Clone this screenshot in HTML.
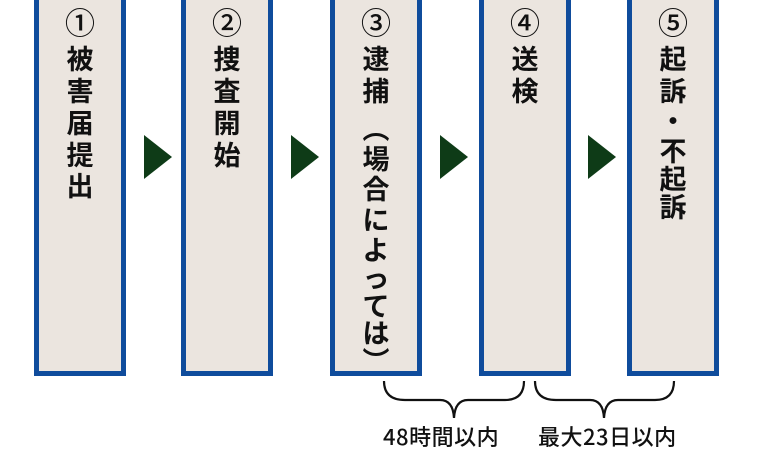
<!DOCTYPE html>
<html><head><meta charset="utf-8"><style>
body{margin:0;width:765px;height:453px;background:#fff;position:relative;overflow:hidden;font-family:"Liberation Sans","Noto Sans CJK JP",sans-serif;}
.b{position:absolute;top:-5px;height:371px;width:82px;border:5px solid #0f4c9c;background:#ebe5df;}
.c{position:absolute;left:0;width:82px;text-align:center;font-weight:bold;font-size:27px;line-height:28px;color:#111;}
.n{font-size:30px;font-family:"Noto Sans CJK JP",sans-serif;font-weight:500;}
.a{position:absolute;top:135px;width:0;height:0;border-top:22px solid transparent;border-bottom:22px solid transparent;border-left:28px solid #0e3b17;}
.l{position:absolute;top:423px;font-size:22px;line-height:26px;color:#111;font-weight:500;font-family:"Noto Sans CJK JP",sans-serif;letter-spacing:0.5px;}
</style></head><body>
<div class="b" style="left:34px"></div>
<div class="b" style="left:181px"></div>
<div class="b" style="left:330px"></div>
<div class="b" style="left:479px"></div>
<div class="b" style="left:627px"></div>
<div class="a" style="left:144px"></div>
<div class="a" style="left:291px"></div>
<div class="a" style="left:440px"></div>
<div class="a" style="left:588px"></div>
<div id="t"></div>
<svg width="765" height="453" style="position:absolute;left:0;top:0" fill="none" stroke="#111" stroke-width="2.2">
<path d="M384 381 Q384 400 405 400 L440 400 Q453 400 454 418 Q455 400 468 400 L505 400 Q524 400 524 381"/>
<path d="M535 381 Q535 400 556 400 L590 400 Q603 400 604 418 Q605 400 618 400 L655 400 Q674 400 674 381"/>
</svg>
<div class="l" style="left:383px">48時間以内</div>
<div class="l" style="left:538px">最大23日以内</div>
<script>
var cols=[[39,[["①",7],["被",46],["害",78],["届",110],["提",142],["出",173]]],
[186,[["②",7],["捜",46],["査",78],["開",110],["始",142]]],
[335,[["③",7],["逮",46],["捕",78],["︵",116],["場",146],["合",176],["に",207],["よ",237],["っ",265],["て",293],["は",320],["︶",348]]],
[484,[["④",7],["送",46],["検",78]]],
[632,[["⑤",7],["起",46],["訴",78],["・",108],["不",138],["起",166],["訴",194]]]];
var h="";cols.forEach(function(c){c[1].forEach(function(p,i){h+='<div class="c'+(i==0?' n':'')+'" style="left:'+c[0]+'px;top:'+p[1]+'px">'+p[0]+'</div>';});});
document.getElementById("t").innerHTML=h;
</script>
</body></html>
